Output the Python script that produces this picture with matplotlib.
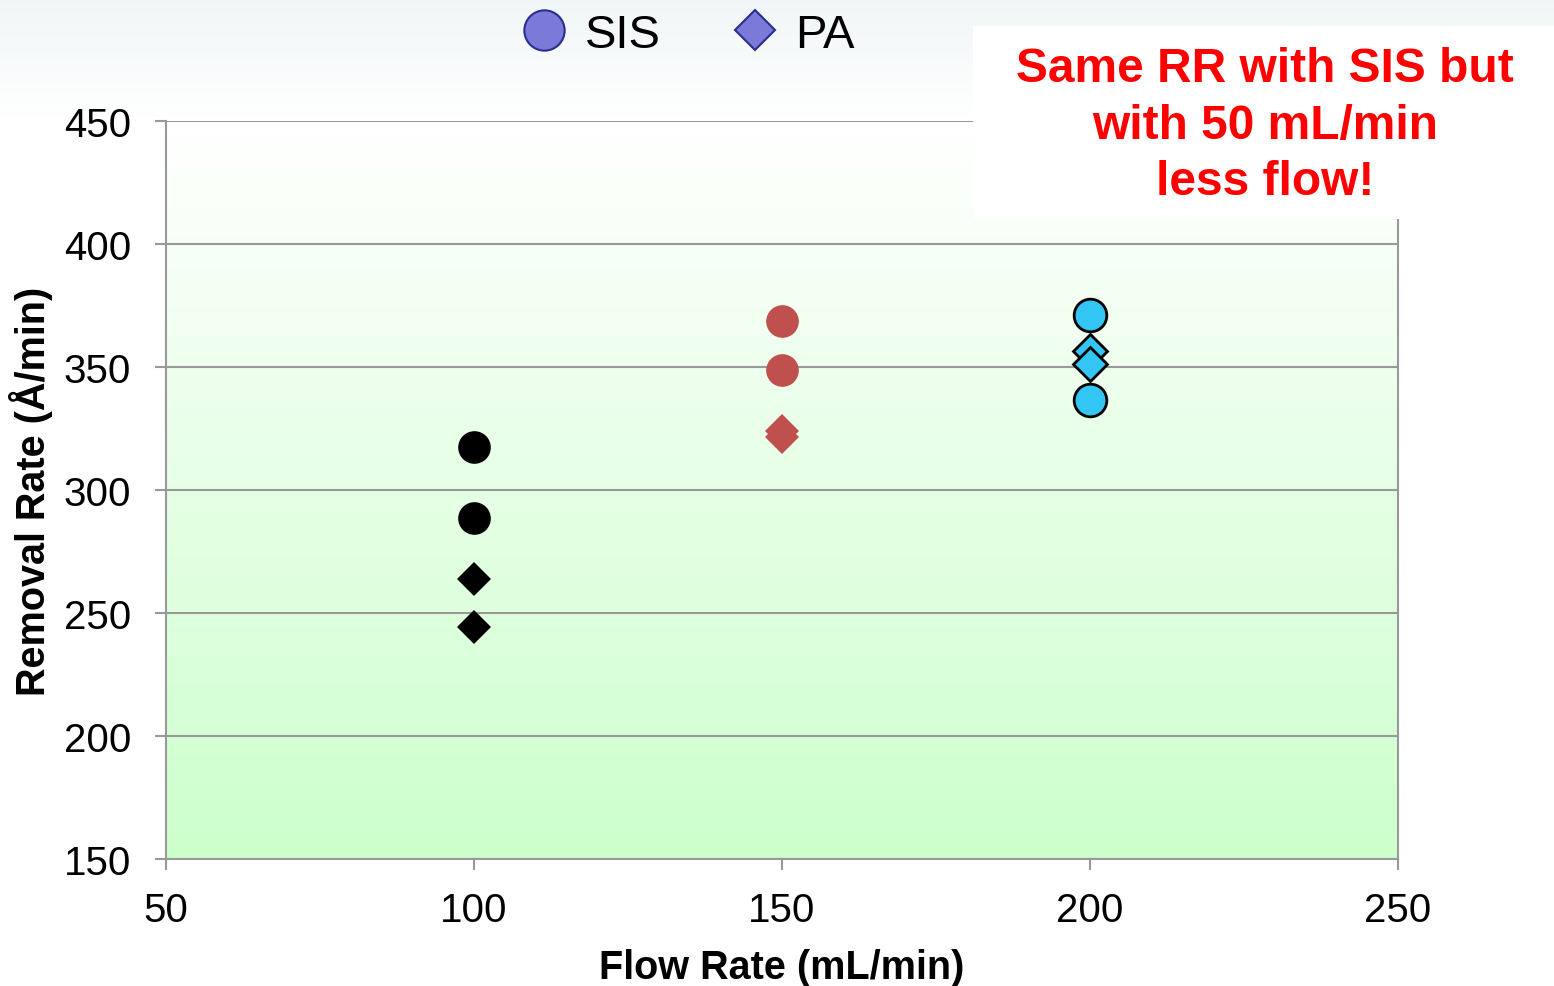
import numpy as np
import matplotlib.pyplot as plt
from matplotlib.colors import LinearSegmentedColormap
from matplotlib.lines import Line2D

plt.rcParams['font.family'] = ['Liberation Sans', 'DejaVu Sans']

# data
flujo = [100, 150, 200]
sis_y = [[317.5, 288.5], [368.7, 348.8], [371.1, 336.6]]
pa_y = [[263.8, 244.3], [323.9, 321.5], [356.5, 351.2]]
colores = ["#000000", "#c0504d", "#33c6f4"]
bordes = ["#000000", "#c0504d", "#000000"]
xticks = [50, 100, 150, 200, 250]
yticks = [150, 200, 250, 300, 350, 400, 450]

fig = plt.figure(figsize=(15.54, 9.87), dpi=100)
fig.patch.set_facecolor("white")

# faint band at the very top of the slide
fondo = fig.add_axes([0, 0, 1, 1], zorder=-10)
fondo.axis("off")
grad_fig = np.linspace(0, 1, 200).reshape(-1, 1)
cmap_fig = LinearSegmentedColormap.from_list("f", ["#f0f6f7", "#ffffff"])
fondo.imshow(grad_fig, extent=[0, 1, 0.88, 1.0], cmap=cmap_fig, aspect="auto", origin="upper")
fondo.set_xlim(0, 1)
fondo.set_ylim(0, 1)

ax = fig.add_axes([0.1068, 0.1287, 0.7928, 0.7477])

# green gradient plot area (white at top, green at bottom)
cmap = LinearSegmentedColormap.from_list("g", ["#ffffff", "#ccffcc"])
grad = np.linspace(0, 1, 256).reshape(-1, 1)
ax.imshow(grad, extent=[50, 250, 150, 450], cmap=cmap, aspect="auto", origin="upper", zorder=0)

for i in range(len(flujo)):
    ec = bordes[i]
    lw = 2 if ec == "#000000" and colores[i] != "#000000" else 0
    ax.plot([flujo[i]] * len(sis_y[i]), sis_y[i], "o", ms=23.5, color=colores[i],
            mec=ec, mew=lw, zorder=5)
    ax.plot([flujo[i]] * len(pa_y[i]), pa_y[i], "D", ms=17, color=colores[i],
            mec=ec, mew=lw, zorder=4)

ax.set_xlim(50, 250)
ax.set_ylim(150, 450)
ax.set_xticks(xticks)
ax.set_yticks(yticks)
ax.tick_params(labelsize=29, length=8, width=1.5, color="#999999")
ax.tick_params(axis="y", pad=17)
ax.tick_params(axis="x", pad=15)
ax.yaxis.grid(True, color="#999999", lw=1.5, zorder=1)
ax.set_axisbelow(False)
for lado in ["left", "bottom", "right"]:
    ax.spines[lado].set_color("#999999")
    ax.spines[lado].set_linewidth(1.5)
ax.spines["top"].set_visible(False)

ax.set_xlabel("Flow Rate (mL/min)", fontsize=28.5, fontweight="bold", labelpad=14)
ax.set_ylabel("Removal Rate (\u00c5/min)", fontsize=28.5, fontweight="bold", labelpad=8)

# legend
h1 = Line2D([], [], marker="o", ls="", ms=29, color="#7a7ad8", mec="#2c2c90", mew=1.5)
h2 = Line2D([], [], marker="D", ls="", ms=20, color="#7a7ad8", mec="#2c2c90", mew=1.5)
fig.legend([h1, h2], ["SIS", "PA"], loc="center", bbox_to_anchor=(0.441, 0.9635),
           ncol=2, frameon=False, fontsize=34, handlelength=1.2, handletextpad=0.25,
           columnspacing=1.4, borderpad=0, borderaxespad=0)

# annotation box
fig.patches.append(plt.Rectangle((973 / 1554, 1 - 220 / 987), 581 / 1554, 193 / 987,
                                 transform=fig.transFigure, facecolor="white",
                                 edgecolor="none", zorder=20))
fig.text(1265 / 1554, 1 - 126 / 987, "Same RR with SIS but\nwith 50 mL/min\nless flow!",
         ha="center", va="center", color="#ff0000", fontsize=34.5, fontweight="bold",
         linespacing=1.33, zorder=21)

plt.savefig("out.png", dpi=100)
